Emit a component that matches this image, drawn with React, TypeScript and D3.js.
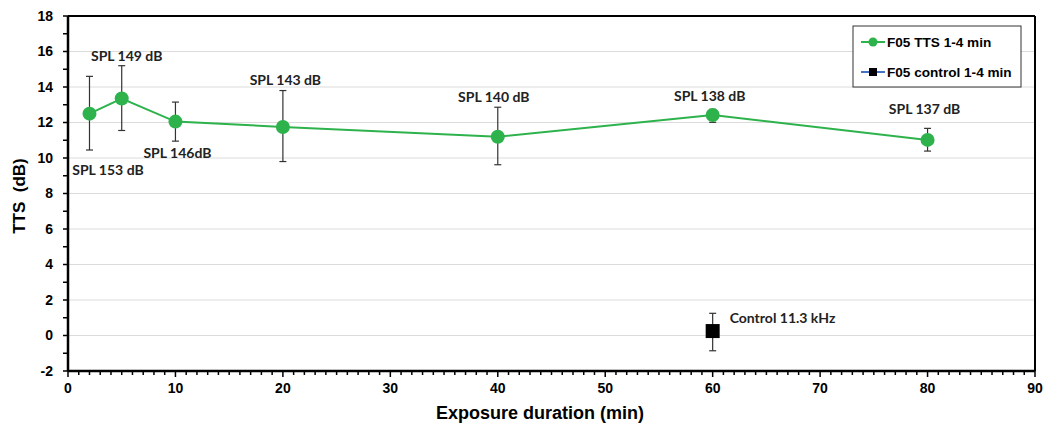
import React from "react";
import * as d3 from "d3";

const ttsX = [2, 5, 10, 20, 40, 60, 80];
const ttsY = [12.5, 13.35, 12.05, 11.75, 11.2, 12.42, 11.02];
const ttsLo = [10.45, 11.55, 10.95, 9.8, 9.62, 12.01, 10.39];
const ttsHi = [14.6, 15.2, 13.15, 13.8, 12.86, 12.74, 11.67];
const ttsLabels = ["SPL 153 dB", "SPL 149 dB", "SPL 146dB", "SPL 143 dB", "SPL 140 dB", "SPL 138 dB", "SPL 137 dB"];
const ctrlX = [60];
const ctrlY = [0.25];
const ctrlLo = [-0.86];
const ctrlHi = [1.25];
const ctrlLabels = ["Control 11.3 kHz"];
const xTicks = [0, 10, 20, 30, 40, 50, 60, 70, 80, 90];
const yTicks = [-2, 0, 2, 4, 6, 8, 10, 12, 14, 16, 18];
const legendLabels = ["F05 TTS 1-4 min", "F05 control 1-4 min"];

// label offsets (px) relative to point: [dx, dy]
const labelOffsets: [number, number][] = [
  [18.5, 56.5], [5, -42], [2, 31], [2.5, -47], [-4, -39.5], [-3, -18.5], [-3, -30.5],
];

export default function App() {
  const W = 1053, H = 425;
  const left = 68, right = 1035, top = 16, bottom = 371;
  const x = d3.scaleLinear().domain([0, 90]).range([left, right]);
  const y = d3.scaleLinear().domain([-2, 18]).range([bottom, top]);
  const green = "#2db24c";
  const line = d3.line<number>().x((d) => x(ttsX[d])).y((d) => y(ttsY[d]));
  const idx = ttsX.map((_, i) => i);
  const minorY = d3.range(-2, 18.01, 1);
  const minorX = d3.range(0, 90.01, 1);
  const axisFont = "Liberation Sans, Arial, sans-serif";
  const lblFont = "Lato, 'Open Sans', sans-serif";

  return (
    <svg width={W} height={H} style={{ position: "absolute", left: 0, top: 0 }}>
      <rect width={W} height={H} fill="#fff" />
      {yTicks.map((t) => (
        <line key={"g" + t} x1={left} x2={right} y1={y(t)} y2={y(t)} stroke="#dcdcdc" strokeWidth={1} />
      ))}
      {/* frame */}
      <line x1={left} x2={right} y1={top} y2={top} stroke="#000" strokeWidth={2} />
      <line x1={right} x2={right} y1={top} y2={bottom} stroke="#000" strokeWidth={2} />
      <line x1={left} x2={left} y1={top} y2={bottom} stroke="#000" strokeWidth={2.5} />
      <line x1={left} x2={right} y1={bottom} y2={bottom} stroke="#000" strokeWidth={2.5} />
      {minorY.map((t) => (
        <line key={"my" + t} x1={left - 5} x2={left} y1={y(t)} y2={y(t)} stroke="#000" strokeWidth={1.5} />
      ))}
      {minorX.map((t) => (
        <line key={"mx" + t} x1={x(t)} x2={x(t)} y1={bottom} y2={bottom + (t % 10 === 0 ? 6 : 4)} stroke="#000" strokeWidth={1.5} />
      ))}
      {yTicks.map((t) => (
        <text key={"yt" + t} x={left - 15} y={y(t)} dy="0.35em" textAnchor="end" fontFamily={axisFont} fontWeight="bold" fontSize={14} fill="#000">{t}</text>
      ))}
      {xTicks.map((t) => (
        <text key={"xt" + t} x={x(t)} y={bottom + 22} textAnchor="middle" fontFamily={axisFont} fontWeight="bold" fontSize={14} fill="#000">{t}</text>
      ))}
      <text x={540} y={419} textAnchor="middle" fontFamily={axisFont} fontWeight="bold" fontSize={18}>Exposure duration (min)</text>
      <text transform={`translate(25,196) rotate(-90)`} textAnchor="middle" fontFamily={axisFont} fontWeight="bold" fontSize={17} style={{ whiteSpace: "pre" }}>TTS  (dB)</text>

      {/* error bars */}
      {idx.map((i) => (
        <g key={"e" + i} stroke="#333" strokeWidth={1.2}>
          <line x1={x(ttsX[i])} x2={x(ttsX[i])} y1={y(ttsLo[i])} y2={y(ttsHi[i])} />
          <line x1={x(ttsX[i]) - 3.5} x2={x(ttsX[i]) + 3.5} y1={y(ttsLo[i])} y2={y(ttsLo[i])} />
          <line x1={x(ttsX[i]) - 3.5} x2={x(ttsX[i]) + 3.5} y1={y(ttsHi[i])} y2={y(ttsHi[i])} />
        </g>
      ))}
      {ctrlX.map((cx, i) => (
        <g key={"ce" + i} stroke="#333" strokeWidth={1.2}>
          <line x1={x(cx)} x2={x(cx)} y1={y(ctrlLo[i])} y2={y(ctrlHi[i])} />
          <line x1={x(cx) - 3.5} x2={x(cx) + 3.5} y1={y(ctrlLo[i])} y2={y(ctrlLo[i])} />
          <line x1={x(cx) - 3.5} x2={x(cx) + 3.5} y1={y(ctrlHi[i])} y2={y(ctrlHi[i])} />
        </g>
      ))}
      <path d={line(idx) || ""} fill="none" stroke={green} strokeWidth={2} />
      {idx.map((i) => (
        <circle key={"c" + i} cx={x(ttsX[i])} cy={y(ttsY[i])} r={7} fill={green} />
      ))}
      {ctrlX.map((cx, i) => (
        <rect key={"cr" + i} x={x(cx) - 7} y={y(ctrlY[i]) - 7} width={14} height={14} fill="#000" />
      ))}
      {idx.map((i) => (
        <text key={"l" + i} x={x(ttsX[i]) + labelOffsets[i][0]} y={y(ttsY[i]) + labelOffsets[i][1]} textAnchor="middle" dy="0.35em" fontFamily={lblFont} fontWeight="bold" fontSize={14} fill="#222">{ttsLabels[i]}</text>
      ))}
      {ctrlX.map((cx, i) => (
        <text key={"cl" + i} x={x(cx) + 17} y={y(ctrlY[i]) - 13} dy="0.35em" fontFamily={lblFont} fontWeight="bold" fontSize={14} fill="#222">{ctrlLabels[i]}</text>
      ))}

      {/* legend */}
      <rect x={853} y={26} width={168} height={61} fill="#fff" stroke="#333" strokeWidth={1} />
      <line x1={861} x2={885} y1={42} y2={42} stroke={green} strokeWidth={2} />
      <circle cx={873} cy={42} r={4.5} fill={green} />
      <text x={887} y={42} dy="0.35em" fontFamily={axisFont} fontWeight="bold" fontSize={13.6}>{legendLabels[0]}</text>
      <line x1={861} x2={885} y1={72} y2={72} stroke="#4472c4" strokeWidth={2} />
      <rect x={869} y={68} width={8} height={8} fill="#000" />
      <text x={887} y={72} dy="0.35em" fontFamily={axisFont} fontWeight="bold" fontSize={13.6}>{legendLabels[1]}</text>
    </svg>
  );
}
